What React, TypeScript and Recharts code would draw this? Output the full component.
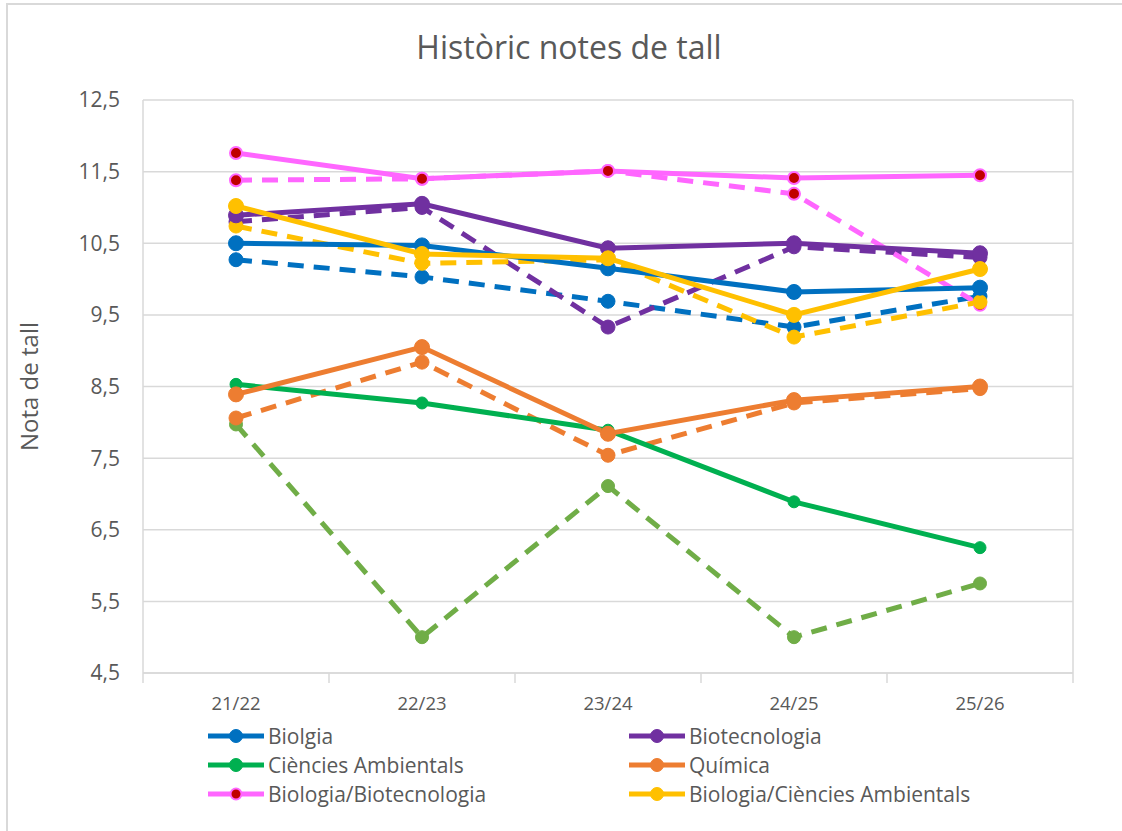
import { LineChart, Line, XAxis, YAxis, CartesianGrid, Legend } from "recharts"

const categories = ["21/22", "22/23", "23/24", "24/25", "25/26"]
// solid = current series, dashed = the companion series (not in legend)
const biolgia = [10.5, 10.47, 10.15, 9.82, 9.88]
const biolgiaDash = [10.27, 10.03, 9.69, 9.33, 9.76]
const biotec = [10.89, 11.05, 10.43, 10.5, 10.36]
const biotecDash = [10.8, 11.0, 9.33, 10.45, 10.3]
const ambientals = [8.53, 8.27, 7.89, 6.89, 6.25]
const ambientalsDash = [7.97, 5.0, 7.11, 5.0, 5.75]
const quimica = [8.39, 9.05, 7.84, 8.31, 8.5]
const quimicaDash = [8.06, 8.84, 7.54, 8.27, 8.47]
const bioBiotec = [11.76, 11.4, 11.51, 11.41, 11.45]
const bioBiotecDash = [11.38, 11.4, 11.51, 11.19, 9.64]
const bioAmb = [11.02, 10.35, 10.29, 9.5, 10.14]
const bioAmbDash = [10.74, 10.22, 10.27, 9.19, 9.68]
const yTicks = [4.5, 5.5, 6.5, 7.5, 8.5, 9.5, 10.5, 11.5, 12.5]

type S = { key: string; name: string; values: number[]; color: string; dash?: boolean; dotFill?: string; r: number }

const series: S[] = [
    { key: "biolgiaDash", name: "Biolgia (d)", values: biolgiaDash, color: "#0070C0", dash: true, r: 7 },
    { key: "biotecDash", name: "Biotecnologia (d)", values: biotecDash, color: "#7030A0", dash: true, r: 7 },
    { key: "ambientalsDash", name: "Ciències Ambientals (d)", values: ambientalsDash, color: "#70AD47", dash: true, r: 6.5 },
    { key: "quimicaDash", name: "Química (d)", values: quimicaDash, color: "#ED7D31", dash: true, r: 7 },
    { key: "bioBiotecDash", name: "Biologia/Biotecnologia (d)", values: bioBiotecDash, color: "#FF66FF", dotFill: "#C00000", dash: true, r: 6 },
    { key: "bioAmbDash", name: "Biologia/Ciències Ambientals (d)", values: bioAmbDash, color: "#FFC000", dash: true, r: 7 },
    { key: "biolgia", name: "Biolgia", values: biolgia, color: "#0070C0", r: 7.5 },
    { key: "biotec", name: "Biotecnologia", values: biotec, color: "#7030A0", r: 7.5 },
    { key: "ambientals", name: "Ciències Ambientals", values: ambientals, color: "#00B050", r: 6 },
    { key: "quimica", name: "Química", values: quimica, color: "#ED7D31", r: 7.5 },
    { key: "bioBiotec", name: "Biologia/Biotecnologia", values: bioBiotec, color: "#FF66FF", dotFill: "#C00000", r: 6 },
    { key: "bioAmb", name: "Biologia/Ciències Ambientals", values: bioAmb, color: "#FFC000", r: 7.5 },
]
const legendOrder = ["biolgia", "biotec", "ambientals", "quimica", "bioBiotec", "bioAmb"]

const data = categories.map((c, i) => {
    const row: Record<string, string | number> = { cat: c }
    series.forEach(s => { row[s.key] = s.values[i] })
    return row
})

const FONT = "'Open Sans', sans-serif"
const TEXT = "#595959"
const GRID = "#D9D9D9"
const AXIS_Y = 673
const HALF_BAND = 93

const XTick = (p: any) => {
    const { x, index, payload } = p
    return (
        <g>
            <line x1={x - HALF_BAND} x2={x - HALF_BAND} y1={AXIS_Y} y2={AXIS_Y + 10} stroke={GRID} strokeWidth={1.5} />
            {index === categories.length - 1 && <line x1={x + HALF_BAND} x2={x + HALF_BAND} y1={AXIS_Y} y2={AXIS_Y + 10} stroke={GRID} strokeWidth={1.5} />}
            <text x={x} y={AXIS_Y + 37} textAnchor="middle" fill={TEXT} fontSize={18.5} fontFamily={FONT}>{payload.value}</text>
        </g>
    )
}

const LegendBox = () => (
    <div style={{ display: "grid", gridTemplateColumns: "421px 421px", paddingLeft: 207, rowGap: 3, fontFamily: FONT, fontSize: 21, color: TEXT }}>
        {legendOrder.map(k => {
            const s = series.find(x => x.key === k)!
            return (
                <div key={k} style={{ display: "flex", alignItems: "center", height: 26 }}>
                    <svg width={58} height={16} style={{ marginRight: 3 }}>
                        <line x1={1} x2={57} y1={8} y2={8} stroke={s.color} strokeWidth={5} />
                        <circle cx={29} cy={8} r={s.dotFill ? 5.5 : 6.5} fill={s.dotFill ?? s.color} stroke={s.color} strokeWidth={s.dotFill ? 2 : 1} />
                    </svg>
                    <span>{s.name}</span>
                </div>
            )
        })}
    </div>
)

export default function App() {
    return (
        <div style={{ position: "absolute", left: 0, top: 0, width: 1122, height: 831, overflow: "hidden", background: "#fff" }}>
            <div style={{ position: "absolute", left: 6, top: 3, width: 1116, height: 828, boxSizing: "border-box", borderLeft: `2px solid ${GRID}`, borderTop: `2px solid ${GRID}` }} />
            <div style={{ position: "absolute", top: 25, left: 8, width: 1122, textAlign: "center", fontFamily: FONT, fontSize: 32, lineHeight: "44px", color: TEXT }}>
                Històric notes de tall
            </div>
            <div style={{ position: "absolute", left: 0, top: 0 }}>
                <LineChart width={1122} height={831} data={data} margin={{ top: 100, right: 49, bottom: 108, left: 0 }}>
                    <CartesianGrid stroke={GRID} strokeWidth={1.5} verticalPoints={[143, 1073]} />
                    <XAxis dataKey="cat" height={50} axisLine={{ stroke: GRID, strokeWidth: 1.5 }} tickLine={false} tickSize={0}
                        padding={{ left: HALF_BAND, right: HALF_BAND }} tick={<XTick />} interval={0} />
                    <YAxis width={143} domain={[4.5, 12.5]} ticks={yTicks} axisLine={false} tickLine={false} tickSize={0} tickMargin={23}
                        tick={{ fill: TEXT, fontSize: 21, fontFamily: FONT }}
                        tickFormatter={(v: number) => v.toFixed(1).replace(".", ",")}
                        label={{ value: "Nota de tall", angle: -90, position: "center", dx: -42, fill: TEXT, fontSize: 24, fontFamily: FONT }} />
                    {series.map(s => (
                        <Line key={s.key} dataKey={s.key} name={s.name} type="linear" stroke={s.color} strokeWidth={5}
                            strokeDasharray={s.dash ? "16 10" : undefined}
                            legendType={s.dash ? "none" : "line"}
                            dot={{ r: s.r, fill: s.dotFill ?? s.color, stroke: s.color, strokeWidth: s.dotFill ? 2 : 1, strokeDasharray: "" }}
                            activeDot={false} isAnimationActive={false} />
                    ))}
                    <Legend layout="horizontal" verticalAlign="middle" align="center" content={() => <LegendBox />}
                        wrapperStyle={{ position: "absolute", top: 723, left: 0, width: 1122 }} />
                </LineChart>
            </div>
        </div>
    )
}
